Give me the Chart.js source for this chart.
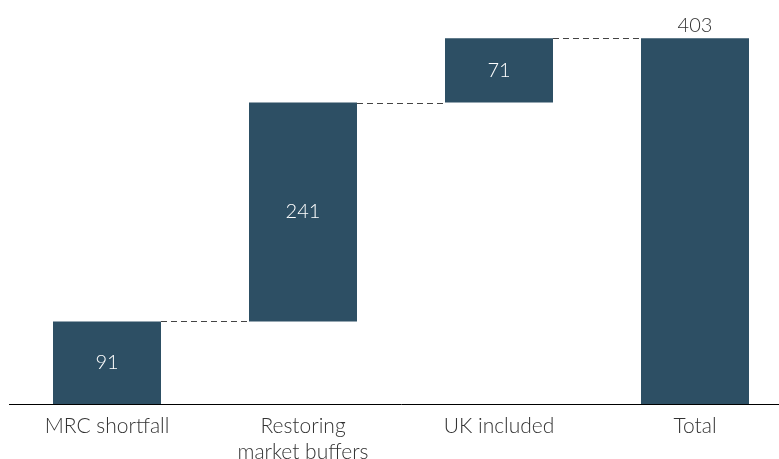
<!DOCTYPE html>
<html>
<head>
<meta charset="utf-8">
<script src="https://cdn.jsdelivr.net/npm/chart.js@4"></script>
<style>
  html, body { margin: 0; padding: 0; background: #fff; overflow: hidden; }
  #wrap { width: 800px; height: 459px; }
</style>
</head>
<body>
<div id="wrap"><canvas id="waterfall"></canvas></div>
<script>
const categories = [['MRC shortfall'], ['Restoring', 'market buffers'], ['UK included'], ['Total']];
const steps = [91, 241, 71];
const total = 403;

// floating bars: start / end for each step, then the total from zero
let ranges = [];
let running = 0;
steps.forEach(function (s) {
    ranges.push([running, running + s]);
    running += s;
});
ranges.push([0, total]);
const shownValues = steps.concat([total]);

const barColor = '#2d4f64';
const fontFamily = 'Lato, "Open Sans", sans-serif';

const waterfallExtras = {
    id: 'waterfallExtras',
    afterDatasetsDraw(chart) {
        const ctx = chart.ctx;
        const meta = chart.getDatasetMeta(0);
        const y = chart.scales.y;

        // dashed connectors between bars
        ctx.save();
        ctx.strokeStyle = '#444';
        ctx.lineWidth = 1;
        ctx.setLineDash([6, 4]);
        for (let i = 0; i < meta.data.length - 1; i++) {
            const a = meta.data[i], b = meta.data[i + 1];
            const level = Math.round(y.getPixelForValue(ranges[i][1])) + 0.5;
            ctx.beginPath();
            ctx.moveTo(a.x + a.width / 2, level);
            ctx.lineTo(b.x - b.width / 2, level);
            ctx.stroke();
        }
        ctx.restore();

        // value labels
        ctx.save();
        ctx.font = '300 20px ' + fontFamily;
        ctx.textAlign = 'center';
        ctx.textBaseline = 'middle';
        meta.data.forEach(function (bar, i) {
            if (i === meta.data.length - 1) {
                ctx.fillStyle = '#333';
                ctx.fillText(String(shownValues[i]), bar.x, bar.y - 13);
            } else {
                ctx.fillStyle = '#fff';
                ctx.fillText(String(shownValues[i]), bar.x, (bar.y + bar.base) / 2);
            }
        });
        ctx.restore();
    }
};

new Chart(document.getElementById('waterfall'), {
    type: 'bar',
    data: {
        labels: categories,
        datasets: [{
            data: ranges,
            backgroundColor: barColor,
            borderWidth: 0,
            borderSkipped: false,
            categoryPercentage: 1,
            barPercentage: 0.551
        }]
    },
    options: {
        responsive: true,
        maintainAspectRatio: false,
        animation: false,
        layout: { padding: { left: 9, right: 7, top: 0, bottom: 0 } },
        plugins: {
            legend: { display: false },
            tooltip: { enabled: false }
        },
        scales: {
            x: {
                grid: { display: false, drawTicks: false },
                border: { display: true, color: '#000', width: 1 },
                ticks: {
                    color: '#333',
                    padding: 10,
                    font: { family: fontFamily, size: 21, weight: 300, lineHeight: 1.2 }
                },
                afterFit(scale) { scale.height = 55; }
            },
            y: {
                display: false,
                min: 0,
                max: 445
            }
        }
    },
    plugins: [waterfallExtras]
});
</script>
</body>
</html>
